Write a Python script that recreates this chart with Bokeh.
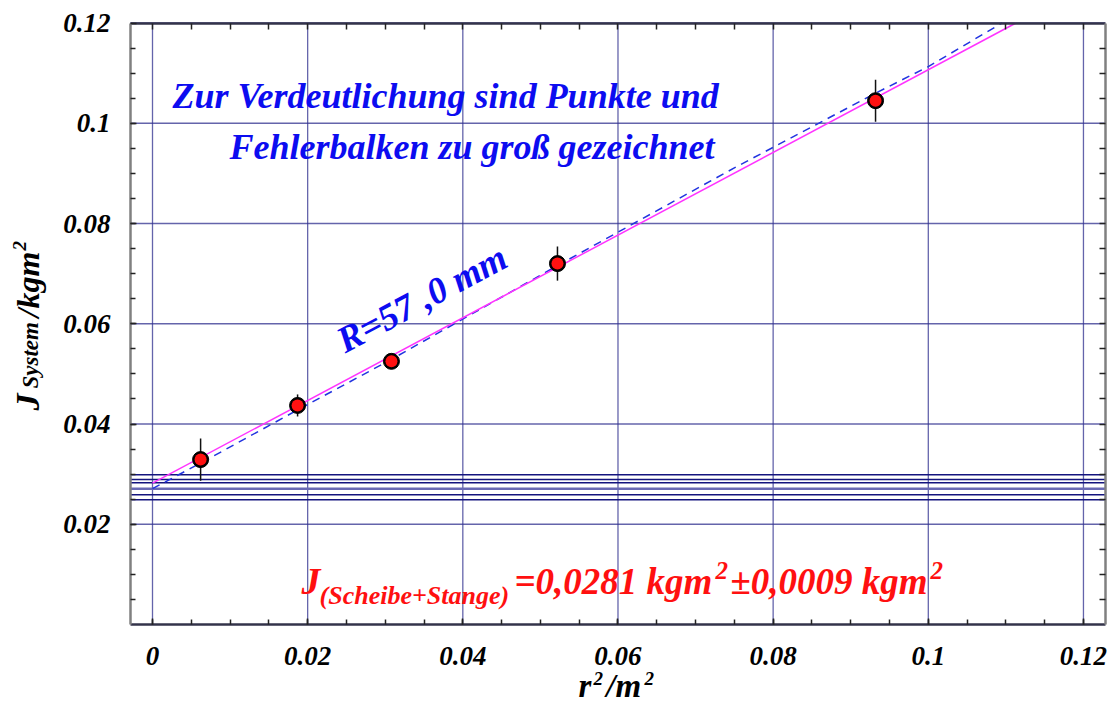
import numpy as np
from bokeh.plotting import figure
from bokeh.models import FixedTicker, LinearAxis, Label, Range1d
from bokeh.embed import file_html
from bokeh.resources import INLINE

# ---------------- data ----------------
r2 = [0.0062, 0.0187, 0.0308, 0.0522, 0.0932]          # r^2 / m^2
J_sys = [0.0329, 0.0437, 0.0525, 0.0720, 0.1045]        # J_System / kgm^2
J_err = [0.0042, 0.0022, 0.0014, 0.0034, 0.0042]

fit_x = [0.0, 0.1113]
fit_y = [0.0282, 0.1200]

dash_x = [0.0, 0.0062, 0.0187, 0.0308, 0.0522, 0.0750, 0.0932, 0.1000, 0.1095]
dash_y = [0.0271, 0.0322, 0.0428, 0.0529, 0.0716, 0.0911, 0.1060, 0.1113, 0.1200]

h_lines_dark = [0.02987, 0.02893, 0.02827, 0.02588, 0.02488]
h_lines_light = [0.02707]

x_ticks = [0.0, 0.02, 0.04, 0.06, 0.08, 0.10, 0.12]
x_tick_labels = ["0", "0.02", "0.04", "0.06", "0.08", "0.1", "0.12"]
y_ticks = [0.02, 0.04, 0.06, 0.08, 0.10, 0.12]
y_tick_labels = ["0.02", "0.04", "0.06", "0.08", "0.1", "0.12"]
x_minor = [round(i * 0.005, 4) for i in range(0, 25)]
y_minor = [round(i * 0.005, 4) for i in range(1, 24)]

# plotting box (axis rectangle) in data units
X_LO, X_HI = -0.00284, 0.1228
Y_LO, Y_HI = 0.0, 0.12

FONT = "Liberation Serif"
BLUE = "#0c0cf0"
RED = "#ff1010"
GRID = "#30308f"

p = figure(frame_width=1112, frame_height=706,
           x_range=Range1d(-0.019593, 0.123743),
           y_range=Range1d(-0.016359, 0.124489),
           x_axis_location=None, y_axis_location=None,
           output_backend="svg", toolbar_location=None,
           background_fill_color="white", border_fill_color="white")
p.min_border = 0
p.outline_line_color = None
p.grid.visible = False

# grid lines (confined to the axis box)
p.segment(x0=x_ticks, y0=[Y_LO] * len(x_ticks), x1=x_ticks, y1=[Y_HI] * len(x_ticks),
          line_color=GRID, line_width=1.3, line_alpha=0.75)
p.segment(x0=[X_LO] * len(y_ticks), y0=y_ticks, x1=[X_HI] * len(y_ticks), y1=y_ticks,
          line_color=GRID, line_width=1.3, line_alpha=0.75)

# horizontal lines near 0.028
p.segment(x0=[X_LO] * len(h_lines_dark), y0=h_lines_dark,
          x1=[X_HI] * len(h_lines_dark), y1=h_lines_dark,
          line_color="#14147e", line_width=1.4)
p.segment(x0=[X_LO] * len(h_lines_light), y0=h_lines_light,
          x1=[X_HI] * len(h_lines_light), y1=h_lines_light,
          line_color="#6a6ab4", line_width=2.5)

# fit lines
p.line(dash_x, dash_y, line_color="#2233e0", line_width=1.5, line_dash="8 6")
p.line(fit_x, fit_y, line_color="#ff33ff", line_width=1.5)

# error bars and points
y0 = [y - e for y, e in zip(J_sys, J_err)]
y1 = [y + e for y, e in zip(J_sys, J_err)]
p.segment(x0=r2, y0=y0, x1=r2, y1=y1, line_color="#111111", line_width=1.5)
p.scatter(r2, J_sys, size=16, fill_color="black", line_color="black")
p.scatter(r2, J_sys, size=12, fill_color="#ff1111", line_color=None)


# ---------------- axes ----------------
def base_axis(ax, line_color):
    ax.major_tick_in = 6
    ax.major_tick_out = 0
    ax.minor_tick_in = 5
    ax.minor_tick_out = 0
    ax.major_tick_line_color = "#222222"
    ax.minor_tick_line_color = "#222222"
    ax.major_tick_line_width = 1.5
    ax.minor_tick_line_width = 1.5
    ax.axis_line_color = line_color
    ax.axis_line_width = 2.5


def label_axis(ax, ticks, minor, labels, standoff):
    ax.ticker = FixedTicker(ticks=ticks, minor_ticks=minor)
    ax.major_label_overrides = dict(zip(ticks, labels))
    ax.major_label_text_font = FONT
    ax.major_label_text_font_style = "bold italic"
    ax.major_label_text_font_size = "27px"
    ax.major_label_text_color = "black"
    ax.major_label_standoff = standoff


bottom = LinearAxis(fixed_location=Y_LO, bounds=(X_LO, X_HI))
base_axis(bottom, "#33334a")
label_axis(bottom, x_ticks, x_minor, x_tick_labels, 22)
p.add_layout(bottom, "below")

left = LinearAxis(fixed_location=X_LO, bounds=(Y_LO, Y_HI))
base_axis(left, "#808080")
label_axis(left, y_ticks, y_minor, y_tick_labels, 20)
p.add_layout(left, "left")

top = LinearAxis(fixed_location=Y_HI, bounds=(X_LO, X_HI))
base_axis(top, "#33334a")
top.ticker = FixedTicker(ticks=[], minor_ticks=x_minor)
top.minor_tick_in = 6
p.add_layout(top, "above")

right = LinearAxis(fixed_location=X_HI, bounds=(Y_LO, Y_HI))
base_axis(right, "#808080")
right.ticker = FixedTicker(ticks=[], minor_ticks=y_minor)
right.minor_tick_in = 6
p.add_layout(right, "right")


# ---------------- texts ----------------
def lab(x, y, text, size, color, angle=0.0):
    p.add_layout(Label(x=x, y=y, text=text, text_font=FONT,
                       text_font_style="bold italic", text_font_size=size,
                       text_color=color, angle=angle, text_align="left",
                       text_baseline="middle"))


lab(0.00258, 0.10534, "Zur Verdeutlichung sind Punkte und", "36px", BLUE)
lab(0.00993, 0.09536, "Fehlerbalken zu groß gezeichnet", "36px", BLUE)
lab(0.0241, 0.05626, "R=57 ,0 mm", "37px", BLUE, angle=0.49)

# red result text
lab(0.01920, 0.00858, "J", "38px", RED)
lab(0.02153, 0.00579, "(Scheibe+Stange)", "26px", RED)
lab(0.04666, 0.00858, "=0,0281 kgm", "37px", RED)
lab(0.07257, 0.01077, "2", "25px", RED)
lab(0.07450, 0.00858, "±0,0009 kgm", "37px", RED)
lab(0.10028, 0.01077, "2", "25px", RED)

# y axis label (rotated, reading upwards)
lab(-0.01617, 0.04269, "J", "34px", "black", angle=np.pi / 2)
lab(-0.01579, 0.04708, "System", "23px", "black", angle=np.pi / 2)
lab(-0.01606, 0.06125, "/kgm", "32px", "black", angle=np.pi / 2)
lab(-0.01714, 0.07461, "2", "19px", "black", angle=np.pi / 2)

# x axis label
lab(0.05490, -0.01217, "r", "33px", "black")
lab(0.05685, -0.01077, "2", "19px", "black")
lab(0.05850, -0.01217, "/m", "33px", "black")
lab(0.06342, -0.01077, "2", "19px", "black")

open("out.html", "w").write(file_html(p, INLINE))
